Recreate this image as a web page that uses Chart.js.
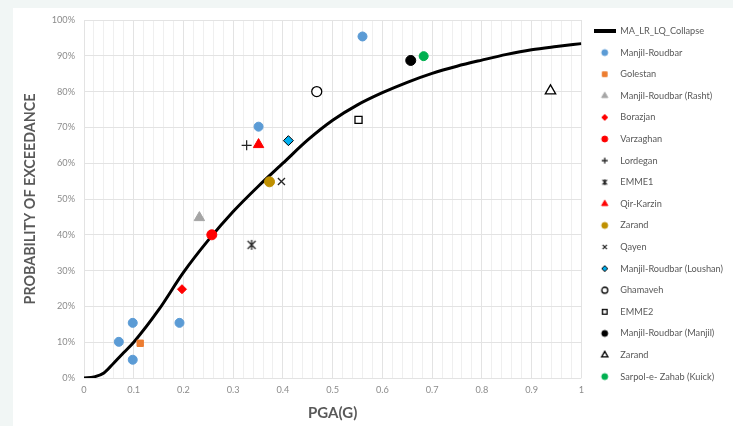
<!DOCTYPE html>
<html>
<head>
<meta charset="utf-8">
<script src="https://cdn.jsdelivr.net/npm/chart.js@4.4.0/dist/chart.umd.min.js"></script>
<style>
    html, body { margin: 0; padding: 0; background: #f1f6f5; }
    #wrap { position: absolute; left: 13px; top: 8px; width: 720px; height: 418px; background: #fff; }
</style>
</head>
<body>
<div id="wrap"><canvas id="fragilityChart" width="720" height="418"></canvas></div>
<script>
// fragility curve
const curvePga = [0, 0.02, 0.04, 0.06, 0.08, 0.1, 0.15, 0.2, 0.25, 0.3, 0.35, 0.4, 0.45, 0.5, 0.55, 0.6, 0.65, 0.7, 0.75, 0.8, 0.85, 0.9, 0.95, 1.0];
const curveProb = [0, 0.003, 0.014, 0.042, 0.071, 0.10, 0.19, 0.295, 0.385, 0.465, 0.535, 0.60, 0.665, 0.72, 0.763, 0.797, 0.826, 0.851, 0.871, 0.888, 0.904, 0.917, 0.926, 0.934];

// observed damage points
const seriesNames = ['Manjil-Roudbar', 'Golestan', 'Manjil-Roudbar (Rasht)', 'Borazjan', 'Varzaghan', 'Lordegan', 'EMME1',
    'Qir-Karzin', 'Zarand', 'Qayen', 'Manjil-Roudbar (Loushan)', 'Ghamaveh', 'EMME2', 'Manjil-Roudbar (Manjil)', 'Zarand', 'Sarpol-e- Zahab (Kuick)'];
const seriesPga = [
    [0.070, 0.098, 0.098, 0.192, 0.351, 0.560],
    [0.113],
    [0.232],
    [0.197],
    [0.257],
    [0.327],
    [0.337],
    [0.351],
    [0.373],
    [0.397],
    [0.411],
    [0.468],
    [0.552],
    [0.657],
    [0.938],
    [0.683]
];
const seriesProb = [
    [0.101, 0.154, 0.051, 0.154, 0.702, 0.954],
    [0.097],
    [0.448],
    [0.248],
    [0.40],
    [0.65],
    [0.372],
    [0.652],
    [0.548],
    [0.549],
    [0.663],
    [0.80],
    [0.721],
    [0.887],
    [0.802],
    [0.899]
];
const yTicks = [0, 0.1, 0.2, 0.3, 0.4, 0.5, 0.6, 0.7, 0.8, 0.9, 1];

// asterisk marker (X with a vertical stroke), like the Excel one
function makeAsterisk(size, color) {
    const c = document.createElement('canvas');
    c.width = size; c.height = size;
    const g = c.getContext('2d');
    const r = size / 2 - 1;
    g.strokeStyle = color;
    g.lineWidth = 1.3;
    g.beginPath();
    g.moveTo(size / 2 - r * 0.8, size / 2 - r * 0.8); g.lineTo(size / 2 + r * 0.8, size / 2 + r * 0.8);
    g.moveTo(size / 2 + r * 0.8, size / 2 - r * 0.8); g.lineTo(size / 2 - r * 0.8, size / 2 + r * 0.8);
    g.moveTo(size / 2, size / 2 - r); g.lineTo(size / 2, size / 2 + r);
    g.stroke();
    return c;
}

// marker look for each series
const markerStyles = [
    { pointStyle: 'circle', radius: 4.5, bg: '#5b9bd5', border: '#5b9bd5' },
    { pointStyle: 'rect', radius: 4.5, bg: '#ed7d31', border: '#ed7d31' },
    { pointStyle: 'triangle', radius: 6, bg: '#a5a5a5', border: '#a5a5a5' },
    { pointStyle: 'rectRot', radius: 4.5, bg: '#ff0000', border: '#ff0000' },
    { pointStyle: 'circle', radius: 5, bg: '#ff0000', border: '#ff0000' },
    { pointStyle: 'cross', radius: 5, bg: '#262626', border: '#262626', width: 1.3 },
    { pointStyle: makeAsterisk(12, '#262626'), legendStyle: makeAsterisk(8, '#262626'), radius: 5, bg: '#262626', border: '#262626', width: 1.3 },
    { pointStyle: 'triangle', radius: 6, bg: '#ff0000', border: '#ff0000' },
    { pointStyle: 'circle', radius: 5, bg: '#bf9000', border: '#bf9000' },
    { pointStyle: 'crossRot', radius: 5, bg: '#262626', border: '#262626', width: 1.3 },
    { pointStyle: 'rectRot', radius: 5, bg: '#00b0f0', border: '#000000', width: 1 },
    { pointStyle: 'circle', radius: 5, bg: '#ffffff', border: '#000000', width: 1.3 },
    { pointStyle: 'rect', radius: 5, bg: '#ffffff', border: '#000000', width: 1.3 },
    { pointStyle: 'circle', radius: 5, bg: '#000000', border: '#000000' },
    { pointStyle: 'triangle', radius: 6, bg: '#ffffff', border: '#000000', width: 1.3 },
    { pointStyle: 'circle', radius: 4.5, bg: '#00b050', border: '#00b050' }
];

// small legend swatches, 22px wide so every label starts at the same x
function legendSwatch(m) {
    const c = document.createElement('canvas');
    c.width = 22; c.height = 10;
    const g = c.getContext('2d');
    if (m === null) {
        g.fillStyle = '#000000';
        g.fillRect(0, 3, 22, 4);
        return c;
    }
    if (m.legendStyle) {
        g.drawImage(m.legendStyle, 11 - m.legendStyle.width / 2, 5 - m.legendStyle.height / 2);
        return c;
    }
    g.fillStyle = m.bg;
    g.strokeStyle = m.border;
    g.lineWidth = m.width || 1;
    const r = m.pointStyle === 'triangle' ? 3.6 : (m.pointStyle === 'rect' ? 3.3 : 3);
    Chart.helpers.drawPoint(g, { pointStyle: m.pointStyle, radius: r, borderWidth: g.lineWidth, rotation: 0 }, 11, 5);
    return c;
}

const datasets = [{
    label: 'MA_LR_LQ_Collapse',
    data: curvePga.map((x, i) => ({ x: x, y: curveProb[i] })),
    showLine: true,
    borderColor: '#000000',
    backgroundColor: '#000000',
    borderWidth: 3,
    pointRadius: 0,
    cubicInterpolationMode: 'monotone',
    order: 1
}];

seriesNames.forEach((name, i) => {
    const m = markerStyles[i];
    datasets.push({
        label: name,
        data: seriesPga[i].map((x, j) => ({ x: x, y: seriesProb[i][j] })),
        pointStyle: m.pointStyle,
        pointRadius: m.radius,
        pointHoverRadius: m.radius,
        backgroundColor: m.bg,
        borderColor: m.border,
        borderWidth: m.width || 1,
        order: 0
    });
});

const swatches = [legendSwatch(null)].concat(markerStyles.map(legendSwatch));

const ctx = document.getElementById('fragilityChart').getContext('2d');
const myChart = new Chart(ctx, {
    type: 'scatter',
    data: { datasets: datasets },
    options: {
        responsive: false,
        animation: false,
        layout: { padding: { top: 6, right: 0, bottom: 0, left: 0 } },
        plugins: {
            tooltip: { enabled: false },
            legend: {
                position: 'right',
                align: 'start',
                maxWidth: 152,
                labels: {
                    usePointStyle: true,
                    pointStyleWidth: 22,
                    boxHeight: 9.2,
                    padding: 12.4,
                    color: '#595959',
                    font: { family: 'Lato', size: 9.2 },
                    sort: function (a, b) { return a.datasetIndex - b.datasetIndex; },
                    generateLabels: function (chart) {
                        const items = Chart.defaults.plugins.legend.labels.generateLabels(chart);
                        items.forEach(item => { item.pointStyle = swatches[item.datasetIndex]; });
                        return items;
                    }
                }
            }
        },
        scales: {
            x: {
                type: 'linear',
                min: 0,
                max: 1,
                border: { display: false },
                afterFit: function (scale) { scale.height = 48; },
                grid: {
                    color: function (c) {
                        return Math.abs(c.tick.value * 10 - Math.round(c.tick.value * 10)) < 1e-6 ? '#e3e3e3' : '#efefef';
                    },
                    drawTicks: false
                },
                ticks: {
                    stepSize: 0.02,
                    autoSkip: false,
                    maxRotation: 0,
                    padding: 7,
                    color: '#8c8c8c',
                    font: { family: 'Lato', size: 9.2 },
                    callback: function (value) {
                        const t = Math.round(value * 100);
                        return t % 10 === 0 ? String(t / 100) : '';
                    }
                },
                title: {
                    display: true,
                    text: 'PGA(G)',
                    color: '#595959',
                    font: { family: 'Lato', size: 15, weight: 'bold' },
                    padding: { top: 8, bottom: 4 }
                }
            },
            y: {
                min: 0,
                max: 1,
                border: { display: false },
                afterFit: function (scale) { scale.width = 71; scale.paddingTop = 12; },
                grid: { color: '#e3e3e3', drawTicks: false },
                afterBuildTicks: function (scale) {
                    scale.ticks = yTicks.map(v => ({ value: v }));
                },
                ticks: {
                    padding: 9,
                    color: '#8c8c8c',
                    font: { family: 'Lato', size: 9.2 },
                    callback: function (value) {
                        return Math.round(value * 100) + '%';
                    }
                },
                title: {
                    display: true,
                    text: 'PROBABILITY OF EXCEEDANCE',
                    color: '#595959',
                    font: { family: 'Lato', size: 14.3, weight: 'bold' },
                    padding: { top: 9, bottom: 0 }
                }
            }
        }
    }
});
</script>
</body>
</html>
